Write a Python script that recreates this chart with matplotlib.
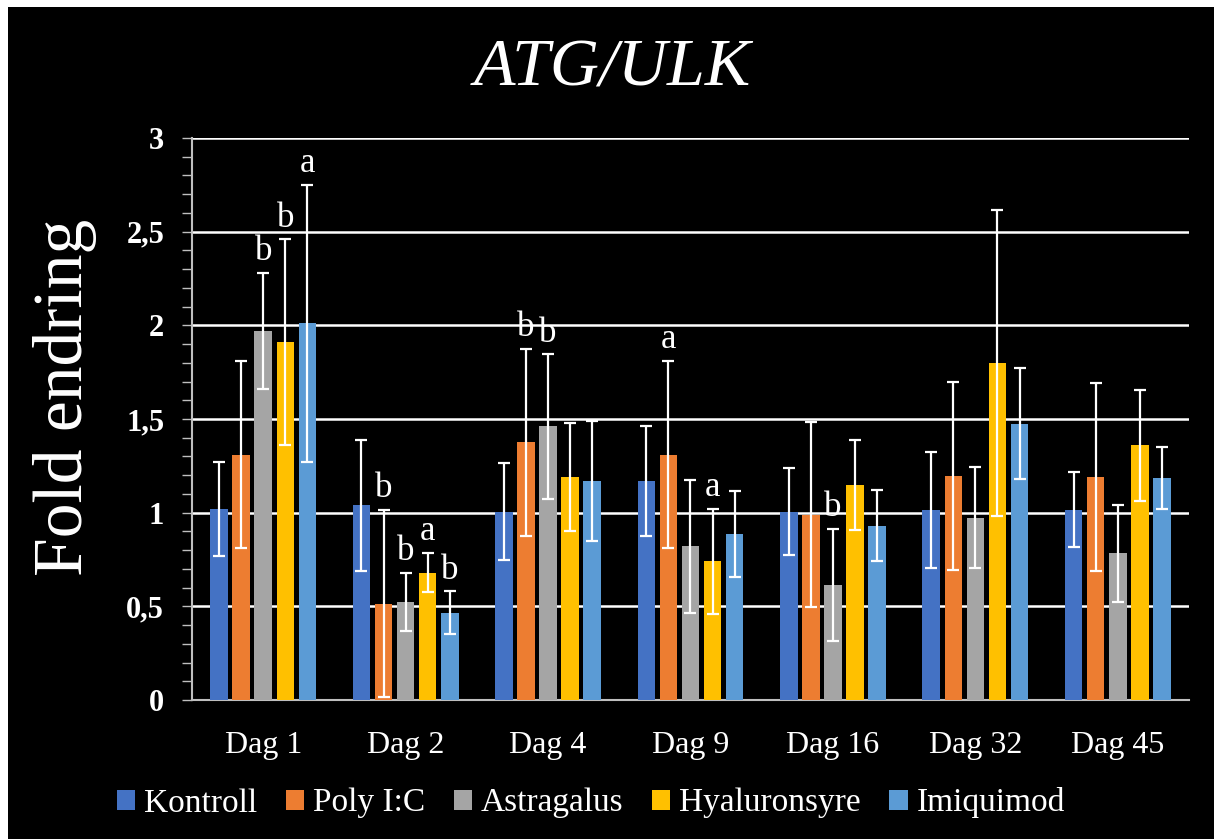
import matplotlib
matplotlib.use('Agg')
import matplotlib.pyplot as plt
import numpy as np
from matplotlib.ticker import MultipleLocator, FuncFormatter
from matplotlib.patches import Rectangle

plt.rcParams['font.family'] = ['Liberation Serif', 'DejaVu Serif']

categories = ['Dag 1', 'Dag 2', 'Dag 4', 'Dag 9', 'Dag 16', 'Dag 32', 'Dag 45']
groups = ['Kontroll', 'Poly I:C', 'Astragalus', 'Hyaluronsyre', 'Imiquimod']
colors = ['#4472C4', '#ED7D31', '#A5A5A5', '#FFC000', '#5B9BD5']

kontroll = [1.02, 1.04, 1.005, 1.17, 1.005, 1.016, 1.016]
kontroll_err = [0.25, 0.35, 0.26, 0.295, 0.233, 0.31, 0.2]
poly = [1.31, 0.515, 1.375, 1.31, 0.99, 1.195, 1.19]
poly_err = [0.50, 0.50, 0.50, 0.50, 0.495, 0.50, 0.50]
astragalus = [1.97, 0.525, 1.46, 0.82, 0.614, 0.973, 0.783]
astragalus_err = [0.31, 0.155, 0.385, 0.357, 0.30, 0.27, 0.26]
hyaluronsyre = [1.91, 0.68, 1.19, 0.74, 1.15, 1.80, 1.36]
hyaluronsyre_err = [0.55, 0.105, 0.29, 0.28, 0.24, 0.816, 0.296]
imiquimod = [2.01, 0.465, 1.17, 0.888, 0.93, 1.475, 1.184]
imiquimod_err = [0.74, 0.115, 0.32, 0.23, 0.19, 0.297, 0.167]

# significance letters above each bar ('' = none)
kontroll_sig = ['', '', '', '', '', '', '']
poly_sig = ['', 'b', 'b', 'a', '', '', '']
astragalus_sig = ['b', 'b', 'b', '', 'b', '', '']
hyaluronsyre_sig = ['b', 'a', '', 'a', '', '', '']
imiquimod_sig = ['a', 'b', '', '', '', '', '']

means = [kontroll, poly, astragalus, hyaluronsyre, imiquimod]
errs = [kontroll_err, poly_err, astragalus_err, hyaluronsyre_err, imiquimod_err]
sigs = [kontroll_sig, poly_sig, astragalus_sig, hyaluronsyre_sig, imiquimod_sig]

fig = plt.figure(figsize=(12.14, 8.39), dpi=100, facecolor='white')
# black panel, leaving a thin white edge top and left
fig.patches.append(Rectangle((8 / 1214, 0), 1, 1 - 7 / 839, transform=fig.transFigure,
                             facecolor='black', edgecolor='none', zorder=-10))

ax = fig.add_axes([192 / 1214, 1 - 700 / 839, (1189 - 192) / 1214, (700 - 138) / 839])
ax.set_facecolor('black')

x = np.arange(len(categories))
pitch = 0.155
width = 0.123
for i, (m, e, s) in enumerate(zip(means, errs, sigs)):
    pos = x + (i - 2) * pitch
    ax.bar(pos, m, width, color=colors[i], label=groups[i], zorder=3)
    ax.errorbar(pos, m, yerr=e, fmt='none', ecolor='white', elinewidth=1.6,
                capsize=4.5, capthick=1.6, zorder=4)
    for px, val, err, letter in zip(pos, m, e, s):
        if letter:
            ax.annotate(letter, (px, val + err), xytext=(0, 9), textcoords='offset points',
                        ha='center', va='baseline', color='white', fontsize=25, zorder=5)

ax.set_xlim(-0.5, len(categories) - 0.5)
ax.set_ylim(0, 3)
ax.yaxis.set_major_locator(MultipleLocator(0.5))
ax.yaxis.set_minor_locator(MultipleLocator(0.1))
ax.yaxis.set_major_formatter(FuncFormatter(lambda v, p: ('%g' % v).replace('.', ',')))
ax.grid(axis='y', color='white', linewidth=1.8, zorder=1)
ax.set_axisbelow(True)

ax.set_xticks(x)
ax.set_xticklabels(categories)
ax.tick_params(axis='x', length=0, pad=22, labelsize=23, labelcolor='white')
ax.tick_params(axis='y', which='both', length=7, width=1, color='#BFBFBF', direction='out',
               pad=13, labelsize=22, labelcolor='white')
for lab in ax.get_yticklabels():
    lab.set_fontweight('bold')

for side in ['top', 'right']:
    ax.spines[side].set_visible(False)
for side in ['left', 'bottom']:
    ax.spines[side].set_color('#BFBFBF')
    ax.spines[side].set_linewidth(1.5)

fig.text(612 / 1214, 1 - 69 / 839, 'ATG/ULK', ha='center', va='center', color='white',
         fontsize=49, style='italic')
fig.text(65 / 1214, 1 - 397 / 839, 'Fold endring', ha='center', va='center', color='white',
         fontsize=50, rotation=90)

leg = fig.legend(loc='center', bbox_to_anchor=(591 / 1214, 1 - 803 / 839), ncol=5,
                 frameon=False, fontsize=24, handlelength=0.55, handleheight=0.55,
                 handletextpad=0.27, columnspacing=0.85, borderaxespad=0)
for t in leg.get_texts():
    t.set_color('white')

fig.savefig('out.png', dpi=100, facecolor=fig.get_facecolor())
